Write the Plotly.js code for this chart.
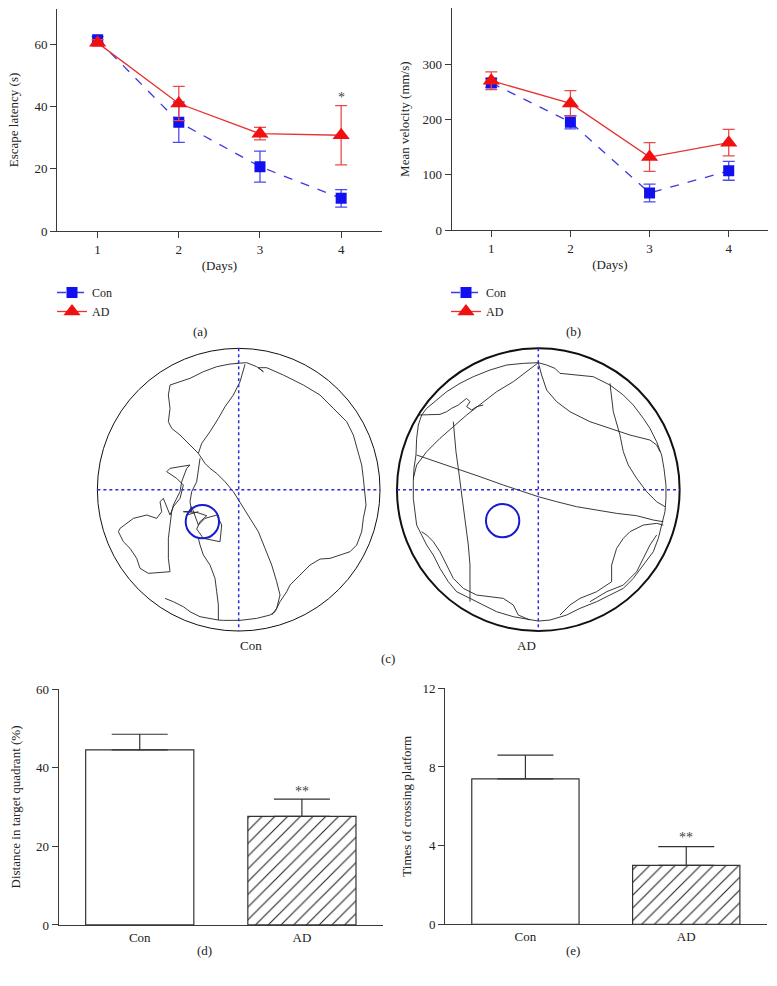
<!DOCTYPE html>
<html>
<head>
<meta charset="utf-8">
<script src="https://cdn.plot.ly/plotly-3.0.1.min.js"></script>
<style>body{margin:0;background:#fff}</style>
</head>
<body>
<div id="fig" style="width:777px;height:986px"></div>
<script>
// Water maze figure: (a) latency, (b) velocity, (c) swim tracks, (d)/(e) probe trial bars

const days = [1, 2, 3, 4];
const latCon = [61.5, 35, 20.7, 10.5];
const latConErr = [1, 6.5, 5, 2.8];
const latAd = [60.5, 41, 31.3, 30.8];
const latAdErr = [1, 5.5, 2, 9.5];

const velCon = [266, 195, 67, 107];
const velConErr = [8, 12, 16, 17];
const velAd = [270, 229, 132, 158];
const velAdErr = [16, 23, 26, 24];

const groups = ['Con', 'AD'];
const distMean = [44.5, 27.6];
const distErr = [4.0, 4.4];
const crossMean = [7.4, 3.0];
const crossErr = [1.2, 0.95];

// swim tracks, in tracking-image pixels (y down), pool centre ~ (446, 494), radius 424
const conTrack = [
    [[440,115],[470,113],[500,125],[520,140],[505,128],[530,128],[580,150],[640,180],[690,210],[730,250],[770,290],[790,330],[805,380],[815,420],[820,460],[825,500],[828,540],[820,580],[815,620],[800,660],[780,680],[750,690],[720,700],[690,702],[660,720],[630,750],[600,780],[590,800],[570,830],[555,860],[540,870],[500,880],[450,886],[400,886],[385,885]],
    [[385,885],[385,840],[380,800],[375,760],[360,720],[340,690],[330,660],[325,640]],
    [[465,118],[450,170],[430,210],[405,245],[385,280],[360,320],[335,355],[325,385],[345,415],[360,430],[380,445],[405,470],[430,500],[455,540],[480,580],[505,620],[525,670],[545,720],[560,770],[570,810],[560,850],[545,870]],
    [[325,385],[300,360],[270,330],[245,310],[235,290],[240,250],[235,210],[240,180],[270,170],[300,160],[340,140],[380,125],[420,117],[445,115]],
    [[330,400],[325,440],[320,470],[305,500],[300,530],[305,560],[280,560],[320,562],[350,572],[330,590],[320,612],[340,640],[390,650],[395,600],[380,570],[345,580],[325,600],[305,545],[290,570],[325,560]],
    [[300,420],[270,425],[240,430],[230,440],[260,460],[280,480],[270,520],[250,545],[240,570],[220,520],[210,530],[215,560],[200,580],[170,570],[130,580],[90,610],[85,620],[100,650],[120,670],[140,700],[150,730],[175,745],[210,742],[240,740],[235,700],[235,640],[240,600],[245,560],[250,540],[270,500],[275,470],[290,430],[300,420]],
    [[225,820],[250,830],[280,845],[300,860],[330,875],[385,885]]
];
const adTrack = [
    [[445,113],[400,115],[350,120],[300,135],[250,155],[210,175],[170,200],[140,225],[110,250],[95,270],[85,300],[80,340],[78,390],[72,430],[70,470],[70,520],[75,560],[80,600],[95,630],[110,660],[130,690],[150,730],[175,770],[200,800],[240,820],[280,840],[320,860],[370,875],[420,885],[445,888],[480,885],[530,870],[570,850],[620,830],[660,810],[700,790],[730,760],[760,720],[790,680],[805,640],[815,600],[825,560],[828,520],[828,480],[822,430],[815,390],[800,350],[780,310],[760,280],[730,240],[700,210],[660,180],[610,155],[560,150],[510,145],[495,130],[470,120],[445,113]],
    [[445,113],[455,150],[470,195],[500,230],[540,260],[600,290],[660,310],[720,330],[780,345],[800,360],[810,380]],
    [[660,175],[665,210],[670,260],[690,330],[700,380],[715,420],[740,460],[770,500],[800,530],[825,545]],
    [[80,390],[140,410],[200,430],[270,455],[340,480],[400,500],[445,515],[500,530],[560,545],[620,555],[680,565],[740,572],[790,585],[820,590]],
    [[445,113],[410,140],[370,170],[320,200],[270,240],[230,270],[190,305],[150,340],[110,380],[80,420],[70,460]],
    [[190,290],[193,330],[198,380],[205,430],[212,480],[220,540],[228,600],[235,660],[240,720],[240,780],[240,830]],
    [[510,870],[540,840],[570,820],[620,800],[665,770],[665,720],[680,670],[700,640],[720,620],[760,600],[800,595],[820,600]],
    [[600,830],[650,800],[700,780],[740,740],[760,700],[780,660],[800,630]],
    [[95,620],[110,630],[130,650],[150,680],[170,720],[190,760],[220,790],[260,810],[300,815],[340,820],[370,840],[385,870],[420,885]],
    [[85,270],[120,268],[150,268],[170,260],[185,250],[205,240],[215,232],[230,220],[240,230],[230,245],[245,255],[260,245],[280,240]]
];
const poolCentreX = [446, 445];
const poolCentreY = [494, 494];
const poolR = 424;
const platformX = [337, 338];
const platformY = [590, 587];
const platformR = 50;

const FONT = 'Liberation Serif, Times New Roman, serif';
const AX = '#3a3a3a';
const CON_BLUE = '#1010f0';
const AD_RED = '#f01010';
const FS = 13;

function flatten(track) {
    const xs = [], ys = [];
    track.forEach(function(seg) {
        seg.forEach(function(p) { xs.push(p[0]); ys.push(p[1]); });
        xs.push(null); ys.push(null);
    });
    return {x: xs, y: ys};
}

function lineAxis(domain, extra) {
    return Object.assign({
        domain: domain,
        showline: true, linecolor: AX, linewidth: 1,
        ticks: 'outside', ticklen: 6, tickcolor: AX, tickwidth: 1,
        showgrid: false, zeroline: false,
        tickfont: {family: FONT, size: FS, color: '#222'}
    }, extra);
}

function axTitle(text, standoff) {
    return {text: text, font: {family: FONT, size: FS, color: '#222'}, standoff: standoff};
}

const conTr = flatten(conTrack);
const adTr = flatten(adTrack);

const traces = [
    // (a)
    {x: days, y: latCon, xaxis: 'x', yaxis: 'y', name: 'Con', type: 'scatter', mode: 'lines+markers',
     line: {color: '#3a3ae6', width: 1.3, dash: 'dash'},
     marker: {symbol: 'square', size: 11, color: CON_BLUE},
     error_y: {type: 'data', array: latConErr, color: '#4a4aee', thickness: 1.3, width: 6},
     legend: 'legend'},
    {x: days, y: latAd, xaxis: 'x', yaxis: 'y', name: 'AD', type: 'scatter', mode: 'lines+markers',
     line: {color: '#e83232', width: 1.3},
     marker: {symbol: 'triangle-up', size: 15, color: AD_RED},
     error_y: {type: 'data', array: latAdErr, color: '#ec4a4a', thickness: 1.3, width: 6},
     legend: 'legend'},
    // (b)
    {x: days, y: velCon, xaxis: 'x2', yaxis: 'y2', name: 'Con', type: 'scatter', mode: 'lines+markers',
     line: {color: '#3a3ae6', width: 1.3, dash: 'dash'},
     marker: {symbol: 'square', size: 11, color: CON_BLUE},
     error_y: {type: 'data', array: velConErr, color: '#4a4aee', thickness: 1.3, width: 6},
     legend: 'legend2'},
    {x: days, y: velAd, xaxis: 'x2', yaxis: 'y2', name: 'AD', type: 'scatter', mode: 'lines+markers',
     line: {color: '#e83232', width: 1.3},
     marker: {symbol: 'triangle-up', size: 15, color: AD_RED},
     error_y: {type: 'data', array: velAdErr, color: '#ec4a4a', thickness: 1.3, width: 6},
     legend: 'legend2'},
    // (c) tracks
    {x: conTr.x, y: conTr.y, xaxis: 'x3', yaxis: 'y3', type: 'scatter', mode: 'lines',
     line: {color: '#222', width: 0.9}, showlegend: false, hoverinfo: 'skip'},
    {x: adTr.x, y: adTr.y, xaxis: 'x4', yaxis: 'y4', type: 'scatter', mode: 'lines',
     line: {color: '#222', width: 0.9}, showlegend: false, hoverinfo: 'skip'},
    // (d)
    {x: groups, y: distMean, xaxis: 'x5', yaxis: 'y5', type: 'bar', width: 0.667, showlegend: false,
     marker: {color: '#fff', line: {color: '#333', width: 1.2},
              pattern: {shape: ['', '/'], fgcolor: '#222', bgcolor: '#fff', size: 9, solidity: 0.12}},
     error_y: {type: 'data', symmetric: false, array: distErr, arrayminus: [0, 0], color: '#333', thickness: 1.2, width: 28}},
    // (e)
    {x: groups, y: crossMean, xaxis: 'x6', yaxis: 'y6', type: 'bar', width: 0.667, showlegend: false,
     marker: {color: '#fff', line: {color: '#333', width: 1.2},
              pattern: {shape: ['', '/'], fgcolor: '#222', bgcolor: '#fff', size: 9, solidity: 0.12}},
     error_y: {type: 'data', symmetric: false, array: crossErr, arrayminus: [0, 0], color: '#333', thickness: 1.2, width: 28}}
];

const shapes = [];
[['x3', 'y3'], ['x4', 'y4']].forEach(function(ref, i) {
    const cx = poolCentreX[i], cy = poolCentreY[i];
    shapes.push({type: 'circle', xref: ref[0], yref: ref[1], x0: cx - poolR, x1: cx + poolR, y0: cy - poolR, y1: cy + poolR,
                 line: {color: '#111', width: i === 0 ? 1 : 2}});
    shapes.push({type: 'line', xref: ref[0], yref: ref[1], x0: cx, x1: cx, y0: cy - poolR, y1: cy + poolR,
                 line: {color: '#2a2ae0', width: 1.5, dash: 'dot'}});
    shapes.push({type: 'line', xref: ref[0], yref: ref[1], x0: cx - poolR, x1: cx + poolR, y0: cy, y1: cy,
                 line: {color: '#2a2ae0', width: 1.5, dash: 'dot'}});
    shapes.push({type: 'circle', xref: ref[0], yref: ref[1],
                 x0: platformX[i] - platformR, x1: platformX[i] + platformR,
                 y0: platformY[i] - platformR, y1: platformY[i] + platformR,
                 line: {color: '#1a1ad0', width: 2}});
});

function label(text, x, y) {
    return {text: text, xref: 'paper', yref: 'paper', x: x / 777, y: 1 - y / 986,
            showarrow: false, font: {family: FONT, size: FS, color: '#222'}};
}

const annotations = [
    {text: '*', xref: 'x', yref: 'y', x: 4, y: 43, showarrow: false, font: {family: FONT, size: 14, color: '#444'}},
    {text: '**', xref: 'x5', yref: 'y5', x: 'AD', y: 34, showarrow: false, font: {family: FONT, size: 14, color: '#444'}},
    {text: '**', xref: 'x6', yref: 'y6', x: 'AD', y: 4.4, showarrow: false, font: {family: FONT, size: 14, color: '#444'}},
    label('(a)', 191, 332), label('(b)', 583, 332), label('(c)', 388, 668),
    label('Con', 238, 645), label('AD', 538, 645),
    label('(d)', 195, 960), label('(e)', 582, 960)
];

const legendBase = {xanchor: 'left', yanchor: 'top', bgcolor: 'rgba(0,0,0,0)', itemwidth: 30,
                    tracegroupgap: 0, font: {family: FONT, size: 12, color: '#222'}};

const layout = {
    width: 777, height: 986,
    margin: {l: 0, r: 0, t: 0, b: 0},
    paper_bgcolor: '#fff', plot_bgcolor: 'rgba(0,0,0,0)',
    font: {family: FONT, size: FS, color: '#222'},
    xaxis: lineAxis([0.0734, 0.4913], {anchor: 'y', range: [0.5, 4.5], tickvals: days, title: axTitle('(Days)', 5)}),
    yaxis: lineAxis([0.7657, 0.9909], {anchor: 'x', range: [0, 71.4], tickvals: [0, 20, 40, 60],
        title: axTitle('Escape latency (s)', 12)}),
    xaxis2: lineAxis([0.5813, 0.9888], {anchor: 'y2', range: [0.5, 4.5], tickvals: days, title: axTitle('(Days)', 5)}),
    yaxis2: lineAxis([0.7667, 0.9916], {anchor: 'x2', range: [0, 401], tickvals: [0, 100, 200, 300],
        title: axTitle('Mean velocity (mm/s)', 10)}),
    xaxis3: {domain: [0.1163, 0.4981], range: [1, 891], visible: false, anchor: 'y3'},
    yaxis3: {domain: [0.3529, 0.6538], range: [939, 49], visible: false, anchor: 'x3'},
    xaxis4: {domain: [0.5019, 0.8837], range: [0, 890], visible: false, anchor: 'y4'},
    yaxis4: {domain: [0.3529, 0.6538], range: [939, 49], visible: false, anchor: 'x4'},
    xaxis5: lineAxis([0.0755, 0.4929], {anchor: 'y5', type: 'category', range: [-0.5, 1.5], ticks: ''}),
    yaxis5: lineAxis([0.0619, 0.3012], {anchor: 'x5', range: [0, 60], tickvals: [0, 20, 40, 60],
        title: axTitle('Distance in target quadrant (%)', 12)}),
    xaxis6: lineAxis([0.5727, 0.9867], {anchor: 'y6', type: 'category', range: [-0.5, 1.5], ticks: ''}),
    yaxis6: lineAxis([0.0626, 0.3019], {anchor: 'x6', range: [0, 12], tickvals: [0, 4, 8, 12],
        title: axTitle('Times of crossing platform', 7)}),
    legend: Object.assign({x: 52 / 777, y: 1 - 278 / 986}, legendBase),
    legend2: Object.assign({x: 446 / 777, y: 1 - 278 / 986}, legendBase),
    shapes: shapes,
    annotations: annotations
};

Plotly.newPlot('fig', traces, layout, {displayModeBar: false, staticPlot: true});
</script>
</body>
</html>
